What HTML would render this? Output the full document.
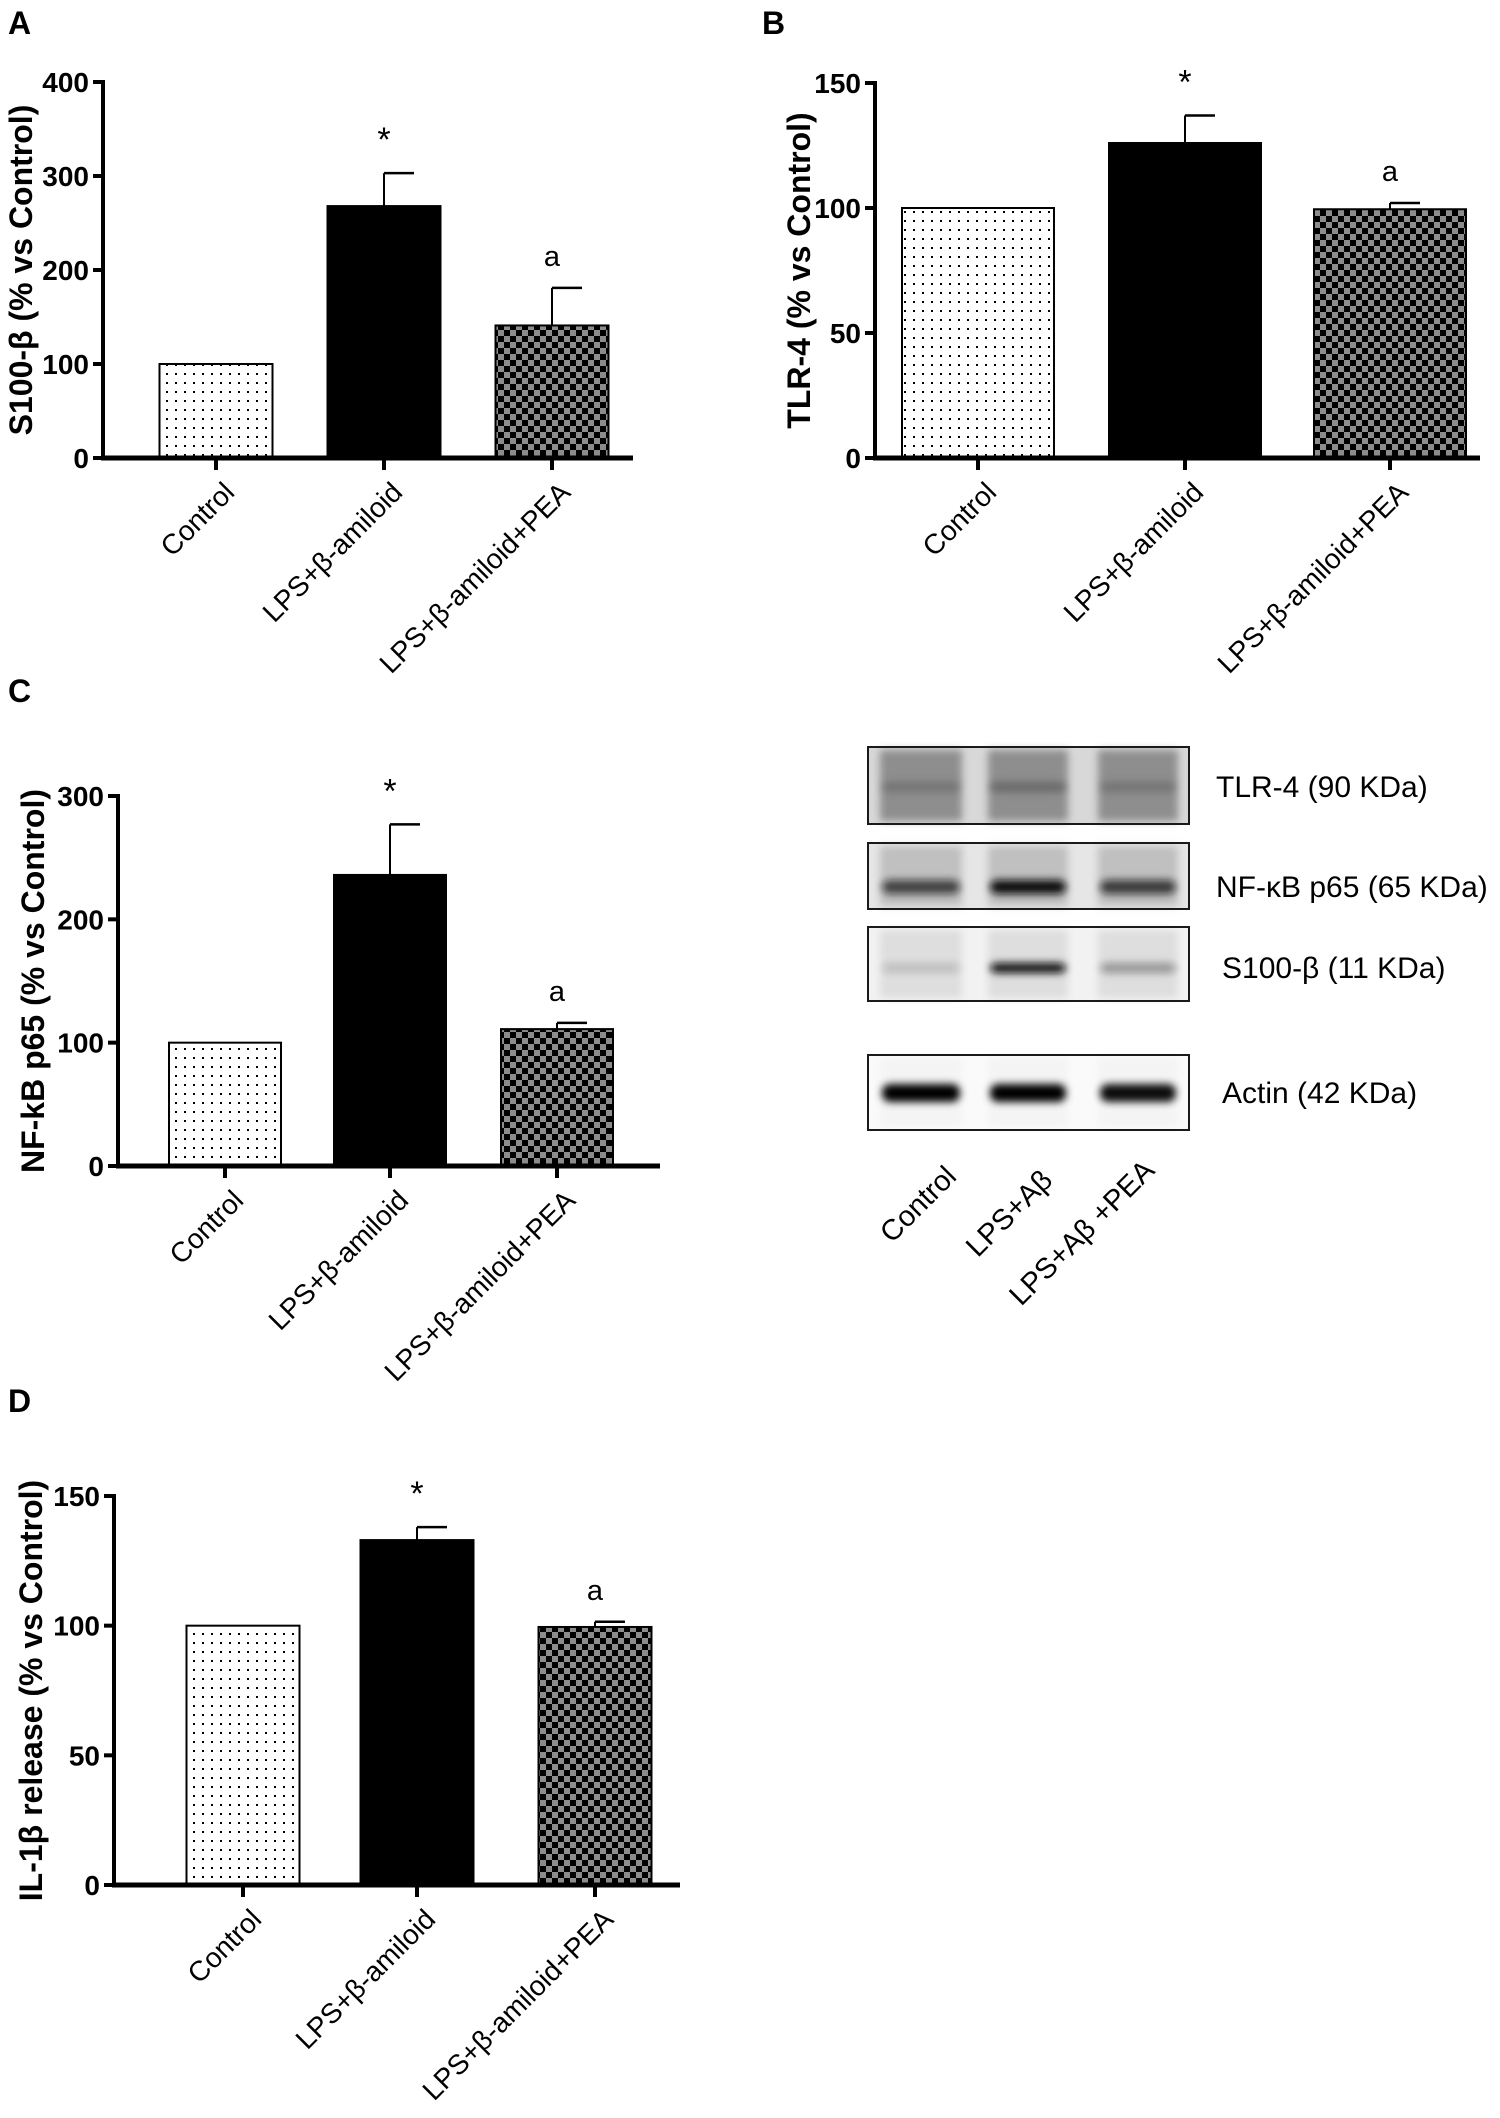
<!DOCTYPE html>
<html><head><meta charset="utf-8">
<style>
html,body{margin:0;padding:0;background:#fff;}
svg text{font-family:"Liberation Sans",sans-serif;}
</style></head>
<body>
<svg id="fig" width="1500" height="2113" viewBox="0 0 1500 2113" xmlns="http://www.w3.org/2000/svg">
<defs>
<pattern id="dots" width="9" height="9" patternUnits="userSpaceOnUse"><rect width="9" height="9" fill="#fff"/><rect x="4" y="4" width="2" height="2" fill="#000"/></pattern>
<pattern id="checks" width="12" height="12" patternUnits="userSpaceOnUse"><rect width="12" height="12" fill="#000"/><rect width="6" height="6" fill="#8c8c8c"/><rect x="6" y="6" width="6" height="6" fill="#8c8c8c"/></pattern>
<filter id="blur3" x="-20%" y="-100%" width="140%" height="300%"><feGaussianBlur stdDeviation="4"/></filter>
</defs>
<g id="charts"></g>
<g id="blot"></g>
</svg>
<script>
// ---- Data arrays ----
const categories = ["Control", "LPS+β-amiloid", "LPS+β-amiloid+PEA"];
const s100Values = [100, 268, 141];
const s100Errors = [0, 35, 40];
const s100Ticks = [0, 100, 200, 300, 400];
const tlr4Values = [100, 126, 99.5];
const tlr4Errors = [0, 11, 2.5];
const tlr4Ticks = [0, 50, 100, 150];
const nfkbValues = [100, 236, 111];
const nfkbErrors = [0, 41, 5];
const nfkbTicks = [0, 100, 200, 300];
const il1bValues = [100, 133, 99.5];
const il1bErrors = [0, 5, 2];
const il1bTicks = [0, 50, 100, 150];
const sigMarks = ["", "*", "a"];
const blotLabels = ["Control", "LPS+Aβ", "LPS+Aβ +PEA"];
const blotProteins = ["TLR-4 (90 KDa)", "NF-κB p65 (65 KDa)", "S100-β (11 KDa)", "Actin (42 KDa)"];

const NS = "http://www.w3.org/2000/svg";
function mk(tag, attrs, parent){ const e=document.createElementNS(NS,tag); for(const k in attrs) e.setAttribute(k,attrs[k]); if(parent) parent.appendChild(e); return e; }

const fills = ["url(#dots)", "#000", "url(#checks)"];

function drawChart(p){
  const root = document.getElementById('charts');
  const g = mk('g', {}, root);
  
  
  const ymax = p.ticks[p.ticks.length-1];
  const yS = v => p.y0 - (v/ymax)*(p.y0-p.yTop);
  const L = mk('text', {x:p.letterX, y:p.letterY, 'font-size':32, 'font-weight':'bold'}, g);
  L.textContent = p.letter;
  
  
  const bw = p.barW;
  p.values.forEach((v,i)=>{
    const cx = p.centers[i];
    const r = mk('rect', {x:cx-bw/2, y:yS(v), width:bw, height:p.y0-yS(v), fill:fills[i], stroke:'#000', 'stroke-width':2}, g);
    
    
    if(p.errors[i]>0){
      const top = yS(v+p.errors[i]);
      const e1 = mk('line', {x1:cx, x2:cx, y1:yS(v), y2:top, stroke:'#000','stroke-width':2}, g);
      
      
      mk('line', {x1:cx, x2:cx+30, y1:top, y2:top, stroke:'#000','stroke-width':2.5}, g);
    }
    if(sigMarks[i]){
      const t = mk('text', {x:cx, y:yS(v+p.errors[i])-22, 'text-anchor':'middle', 'font-size':sigMarks[i]=='*'?34:29}, g);
      t.textContent = sigMarks[i];
      
      
    }
    mk('line', {x1:cx, x2:cx, y1:p.y0, y2:p.y0+12, stroke:'#000','stroke-width':4}, g);
    const lx = cx+20, ly = p.y0+36;
    const xt = mk('text', {x:lx, y:ly, 'text-anchor':'end', 'font-size':28, transform:`rotate(-45 ${lx} ${ly})`}, g);
    xt.textContent = categories[i];
    
    
  });
  const ya = mk('line', {x1:p.axX, x2:p.axX, y1:p.yTop-2, y2:p.y0+2, stroke:'#000','stroke-width':4}, g);
  
  
  const xa = mk('line', {x1:p.axX-2, x2:p.axEnd, y1:p.y0, y2:p.y0, stroke:'#000','stroke-width':5}, g);
  
  
  p.ticks.forEach(t=>{
    const y = yS(t);
    mk('line', {x1:p.axX-10, x2:p.axX, y1:y, y2:y, stroke:'#000','stroke-width':4}, g);
    const tl = mk('text', {x:p.axX-14, y:y+10, 'text-anchor':'end', 'font-size':28, 'font-weight':'bold'}, g);
    tl.textContent = t;
    
    
  });
  const ym = (p.yTop+p.y0)/2;
  const yt = mk('text', {x:p.titleX, y:ym, 'text-anchor':'middle', 'font-size':32, 'font-weight':'bold', transform:`rotate(-90 ${p.titleX} ${ym})`}, g);
  yt.textContent = p.title;
  
  
}

drawChart({name:'chart-s100b', letter:'A', letterX:8, letterY:34, values:s100Values, errors:s100Errors, ticks:s100Ticks,
  axX:103, axEnd:633, yTop:82, y0:458, centers:[216,384,552], barW:113, titleX:32, title:'S100-β (% vs Control)'});
drawChart({name:'chart-tlr4', letter:'B', letterX:762, letterY:34, values:tlr4Values, errors:tlr4Errors, ticks:tlr4Ticks,
  axX:875, axEnd:1480, yTop:83, y0:458, centers:[978,1185,1390], barW:152, titleX:810, title:'TLR-4 (% vs Control)'});
drawChart({name:'chart-nfkb', letter:'C', letterX:8, letterY:702, values:nfkbValues, errors:nfkbErrors, ticks:nfkbTicks,
  axX:118, axEnd:660, yTop:796, y0:1166, centers:[225,390,557], barW:112, titleX:44, title:'NF-kB p65 (% vs Control)'});
drawChart({name:'chart-il1b', letter:'D', letterX:8, letterY:1412, values:il1bValues, errors:il1bErrors, ticks:il1bTicks,
  axX:114, axEnd:680, yTop:1496, y0:1885, centers:[243,417,595], barW:113, titleX:42, title:'IL-1β release (% vs Control)'});

// ---- Western blot ----
(function(){
  const b = document.getElementById('blot');
  const boxes = [
    {y:747,h:77,bg:'#d8d8d8',lane:'#8e8e8e',band:'#5a5a5a',bandY:40,bandH:10,dark:[0.5,0.7,0.5]},
    {y:843,h:66,bg:'#e6e6e6',lane:'#c0c0c0',band:'#111',bandY:44,bandH:14,dark:[0.7,1,0.75]},
    {y:927,h:74,bg:'#f2f2f2',lane:'#dedede',band:'#111',bandY:41,bandH:10,dark:[0.15,1,0.35]},
    {y:1055,h:75,bg:'#fafafa',lane:'#f4f4f4',band:'#000',bandY:38,bandH:18,dark:[1,1,0.95]}
  ];
  const lanes = [[880,962],[988,1068],[1098,1178]];
  boxes.forEach((bx,k)=>{
    const g = mk('g', {}, b);
    
    
    mk('rect', {x:868, y:bx.y, width:321, height:bx.h, fill:bx.bg}, g);
    lanes.forEach((ln,i)=>{
      mk('rect', {x:ln[0], y:bx.y+3, width:ln[1]-ln[0], height:bx.h-6, fill:bx.lane, filter:'url(#blur3)'}, g);
      mk('rect', {x:ln[0]+2, y:bx.y+bx.bandY-bx.bandH/2, width:ln[1]-ln[0]-4, height:bx.bandH, rx:8, fill:bx.band, opacity:bx.dark[i], filter:'url(#blur3)'}, g);
    });
    mk('rect', {x:868, y:bx.y, width:321, height:bx.h, fill:'none', stroke:'#1a1a1a', 'stroke-width':2}, g);
    const t = mk('text', {x:k<2?1216:1222, y:bx.y+bx.bandY+10, 'font-size':30}, b);
    t.textContent = blotProteins[k];
    
    
  });
  const ends = [[958,1178],[1054,1182],[1156,1172]];
  blotLabels.forEach((s,i)=>{
    const [x,y] = ends[i];
    const t = mk('text', {x:x, y:y, 'text-anchor':'end', 'font-size':29, transform:`rotate(-45 ${x} ${y})`}, b);
    t.textContent = s;
    
    
  });
})();
</script>
</body></html>
